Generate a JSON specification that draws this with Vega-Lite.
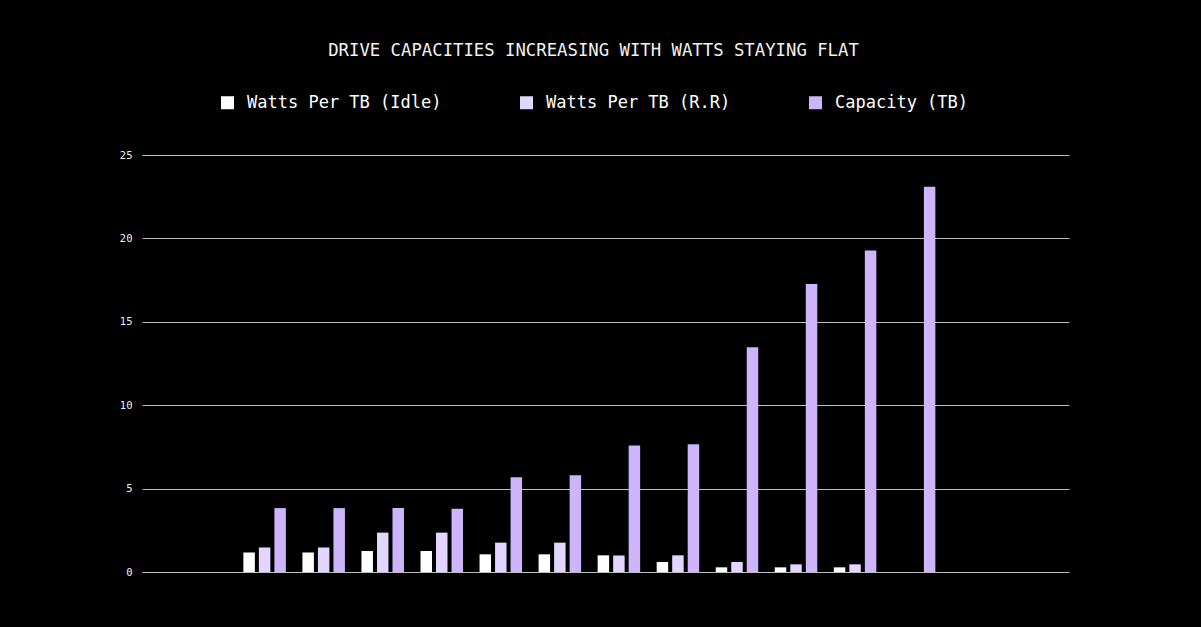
{
  "$schema": "https://vega.github.io/schema/vega-lite/v6.json",
  "autosize": "none",
  "width": 927,
  "height": 417,
  "padding": {"left": 142, "top": 155, "right": 132, "bottom": 55},
  "background": "#000000",
  "title": {
    "text": "DRIVE CAPACITIES INCREASING WITH WATTS STAYING FLAT",
    "font": "DejaVu Sans Mono",
    "fontSize": 17.3,
    "fontWeight": "normal",
    "color": "#f2f2f2",
    "anchor": "middle",
    "dx": -12,
    "offset": 35
  },
  "data": {
    "values": [
      {"drive": "1", "series": "Watts Per TB (Idle)", "value": 1.17},
      {"drive": "1", "series": "Watts Per TB (R.R)", "value": 1.47},
      {"drive": "1", "series": "Capacity (TB)", "value": 3.83},
      {"drive": "2", "series": "Watts Per TB (Idle)", "value": 1.17},
      {"drive": "2", "series": "Watts Per TB (R.R)", "value": 1.47},
      {"drive": "2", "series": "Capacity (TB)", "value": 3.83},
      {"drive": "3", "series": "Watts Per TB (Idle)", "value": 1.26},
      {"drive": "3", "series": "Watts Per TB (R.R)", "value": 2.36},
      {"drive": "3", "series": "Capacity (TB)", "value": 3.83},
      {"drive": "4", "series": "Watts Per TB (Idle)", "value": 1.26},
      {"drive": "4", "series": "Watts Per TB (R.R)", "value": 2.36},
      {"drive": "4", "series": "Capacity (TB)", "value": 3.79},
      {"drive": "5", "series": "Watts Per TB (Idle)", "value": 1.06},
      {"drive": "5", "series": "Watts Per TB (R.R)", "value": 1.76},
      {"drive": "5", "series": "Capacity (TB)", "value": 5.68},
      {"drive": "6", "series": "Watts Per TB (Idle)", "value": 1.06},
      {"drive": "6", "series": "Watts Per TB (R.R)", "value": 1.76},
      {"drive": "6", "series": "Capacity (TB)", "value": 5.8},
      {"drive": "7", "series": "Watts Per TB (Idle)", "value": 1.0},
      {"drive": "7", "series": "Watts Per TB (R.R)", "value": 0.99},
      {"drive": "7", "series": "Capacity (TB)", "value": 7.58},
      {"drive": "8", "series": "Watts Per TB (Idle)", "value": 0.6},
      {"drive": "8", "series": "Watts Per TB (R.R)", "value": 1.0},
      {"drive": "8", "series": "Capacity (TB)", "value": 7.66},
      {"drive": "9", "series": "Watts Per TB (Idle)", "value": 0.28},
      {"drive": "9", "series": "Watts Per TB (R.R)", "value": 0.6},
      {"drive": "9", "series": "Capacity (TB)", "value": 13.48},
      {"drive": "10", "series": "Watts Per TB (Idle)", "value": 0.28},
      {"drive": "10", "series": "Watts Per TB (R.R)", "value": 0.46},
      {"drive": "10", "series": "Capacity (TB)", "value": 17.27},
      {"drive": "11", "series": "Watts Per TB (Idle)", "value": 0.28},
      {"drive": "11", "series": "Watts Per TB (R.R)", "value": 0.46},
      {"drive": "11", "series": "Capacity (TB)", "value": 19.27},
      {"drive": "12", "series": "Capacity (TB)", "value": 23.09}
    ]
  },
  "mark": {"type": "bar"},
  "encoding": {
    "x": {
      "field": "drive",
      "type": "nominal",
      "scale": {
        "domain": ["0", "1", "2", "3", "4", "5", "6", "7", "8", "9", "10", "11", "12", "13"],
        "paddingInner": 0.28,
        "paddingOuter": 0.99,
        "align": 0.362
      },
      "axis": null
    },
    "xOffset": {
      "field": "series",
      "type": "nominal",
      "sort": ["Watts Per TB (Idle)", "Watts Per TB (R.R)", "Capacity (TB)"],
      "scale": {"paddingInner": 0.26, "paddingOuter": 0}
    },
    "y": {
      "field": "value",
      "type": "quantitative",
      "scale": {"domain": [0, 25], "nice": false},
      "axis": {
        "title": null,
        "values": [0, 5, 10, 15, 20, 25],
        "domain": false,
        "ticks": false,
        "labelPadding": 10,
        "labelFont": "DejaVu Sans Mono",
        "labelFontSize": 10.5,
        "labelColor": "#f0f0f0",
        "grid": true,
        "gridColor": "#bdbdbd",
        "gridWidth": 1
      }
    },
    "color": {
      "field": "series",
      "type": "nominal",
      "scale": {
        "domain": ["Watts Per TB (Idle)", "Watts Per TB (R.R)", "Capacity (TB)"],
        "range": ["#ffffff", "#e2d5ff", "#cdb4fb"]
      },
      "legend": {
        "title": null,
        "orient": "none",
        "direction": "horizontal",
        "legendX": 77,
        "legendY": -61,
        "padding": 0,
        "symbolType": "square",
        "symbolSize": 169,
        "symbolStrokeWidth": 0,
        "symbolOpacity": 1,
        "labelFont": "DejaVu Sans Mono",
        "labelFontSize": 17,
        "labelColor": "#ffffff",
        "labelOffset": 11,
        "columnPadding": 76,
        "labelLimit": 400
      }
    }
  },
  "config": {
    "view": {"stroke": null}
  }
}
